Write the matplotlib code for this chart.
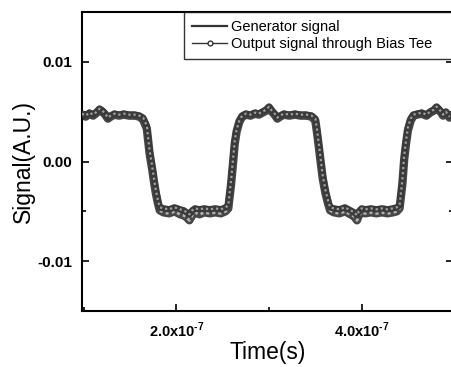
import matplotlib
matplotlib.use("Agg")
import matplotlib.pyplot as plt
from matplotlib.lines import Line2D
from matplotlib.ticker import FixedLocator

plt.rcParams['font.family'] = ['Liberation Sans', 'DejaVu Sans']
plt.rcParams['mathtext.fontset'] = 'custom'
plt.rcParams['mathtext.rm'] = 'Liberation Sans:bold'
plt.rcParams['mathtext.bf'] = 'Liberation Sans:bold'

# Time (ns) and signal (x1e-3 A.U.)
gen_t = [98, 102, 106, 110, 114, 117, 120, 123, 126, 129, 133, 138, 143, 149, 155, 160, 164,
         168, 171, 174, 176, 178, 180, 182, 186, 192, 198, 204, 208, 211, 214, 217, 220, 225,
         230, 236, 242, 248, 253, 256, 259, 261, 263, 265, 268, 271, 275, 280, 285, 289, 293,
         297, 300, 303, 306, 309, 312, 316, 322, 328, 334, 340, 346, 350, 352, 354, 356, 358,
         361, 364, 366, 370, 376, 382, 388, 392, 395, 397, 400, 404, 410, 416, 422, 428, 434,
         438, 441, 444, 446, 448, 450, 453, 456, 460, 465, 470, 474, 478, 481, 483, 486, 488,
         491, 495]
gen_v = [4.8, 4.6, 4.9, 4.7, 5.0, 5.3, 5.1, 4.8, 4.4, 4.6, 4.8, 4.7, 4.8, 4.7, 4.7, 4.6, 4.4,
         3.6, 1.1, -0.6, -1.9, -3.0, -3.9, -4.6, -4.7, -4.8, -4.6, -4.8, -4.9, -5.1, -5.3, -4.9,
         -4.7, -4.8, -4.7, -4.8, -4.7, -4.8, -4.6, -4.4, -1.9, 0.1, 2.1, 3.2, 4.1, 4.6, 4.8, 4.7,
         4.9, 4.8, 5.0, 5.2, 5.5, 5.1, 4.8, 4.4, 4.6, 4.8, 4.7, 4.8, 4.7, 4.7, 4.6, 4.3, 3.1,
         1.6, 0.1, -1.4, -2.9, -4.0, -4.6, -4.7, -4.8, -4.6, -4.9, -5.1, -5.4, -5.0, -4.7, -4.8,
         -4.7, -4.8, -4.7, -4.8, -4.7, -4.6, -4.4, -1.9, 0.6, 2.1, 3.4, 4.3, 4.7, 4.8, 4.9, 4.7,
         5.0, 5.2, 5.5, 5.3, 5.0, 4.7, 5.0, 4.5]
out_t = gen_t
out_v = [4.7, 4.5, 4.8, 4.6, 4.9, 5.2, 5.0, 4.7, 4.3, 4.5, 4.7, 4.6, 4.7, 4.6, 4.6, 4.5, 4.2,
         3.3, 0.8, -0.9, -2.2, -3.3, -4.2, -4.9, -5.1, -5.2, -5.0, -5.3, -5.4, -5.6, -5.9, -5.4,
         -5.1, -5.3, -5.1, -5.2, -5.1, -5.2, -5.0, -4.7, -2.3, -0.3, 1.8, 3.0, 4.0, 4.5, 4.7, 4.6,
         4.8, 4.7, 4.9, 5.1, 5.4, 5.0, 4.7, 4.3, 4.5, 4.7, 4.6, 4.7, 4.6, 4.6, 4.5, 4.1, 2.8,
         1.3, -0.2, -1.7, -3.2, -4.3, -4.9, -5.1, -5.2, -5.0, -5.3, -5.5, -5.9, -5.4, -5.1, -5.2,
         -5.1, -5.2, -5.1, -5.2, -5.1, -5.0, -4.7, -2.3, 0.2, 1.8, 3.1, 4.1, 4.6, 4.7, 4.8, 4.6,
         4.9, 5.1, 5.4, 5.2, 4.9, 4.6, 4.9, 4.4]

x_ticks = [2.0e-7, 4.0e-7]
x_tick_labels = [r'2.0x10$^{\text{-}7}$', r'4.0x10$^{\text{-}7}$']
y_ticks = [-0.01, 0.0, 0.01]
y_tick_labels = ['-0.01', '0.00', '0.01']
legend_labels = ['Generator signal', 'Output signal through Bias Tee']

fig = plt.figure(figsize=(4.51, 3.67), dpi=100)
ax = fig.add_axes([82/451, 1-311/367, 1.005-82/451, (311-12)/367])

gt = [t*1e-9 for t in gen_t]
gv = [v*1e-3 for v in gen_v]
ot = [t*1e-9 for t in out_t]
ov = [v*1e-3 for v in out_v]

ax.plot(ot, ov, color='#474747', lw=6.0, solid_capstyle='round', zorder=2)
ax.plot(ot, ov, color='#b4b4b4', lw=2.2, ls=(0, (1, 1)), zorder=3)
ax.plot(gt, gv, color='#3a3a3a', lw=4.6, solid_capstyle='round', zorder=4)
ax.plot(gt, gv, color='#a0a0a0', lw=1.6, ls=(0, (1, 1.3)), zorder=5)

ax.set_xlim(98e-9, 499e-9)
ax.set_ylim(-0.015, 0.015)
ax.xaxis.set_major_locator(FixedLocator(x_ticks))
ax.set_xticklabels(x_tick_labels)
ax.xaxis.set_minor_locator(FixedLocator([1e-7, 3e-7]))
ax.yaxis.set_major_locator(FixedLocator(y_ticks))
ax.set_yticklabels(y_tick_labels)
ax.yaxis.set_minor_locator(FixedLocator([-0.005, 0.005]))
ax.tick_params(which='both', direction='in', right=True, top=False, width=1.2)
ax.tick_params(which='major', length=5)
ax.tick_params(which='minor', length=3)
ax.tick_params(axis='x', which='major', labelsize=10.5, pad=7)
ax.tick_params(axis='y', which='major', labelsize=11, pad=7)
for lab in ax.get_xticklabels() + ax.get_yticklabels():
    lab.set_fontweight('bold')
for s in ax.spines.values():
    s.set_linewidth(1.5)

ax.set_xlabel('Time(s)', fontsize=16.5, labelpad=1)
ax.set_ylabel('Signal(A.U.)', fontsize=16.5, labelpad=2)

handles = [Line2D([], [], color='#333333', lw=1.6),
           Line2D([], [], color='#333333', lw=1.0, marker='o', ms=3.5,
                  mfc='white', mec='#333333')]
leg = ax.legend(handles, legend_labels, loc='upper left', mode='expand',
                bbox_to_anchor=(184/451, 1-57/367, 1.05-184/451, 45/367),
                bbox_transform=fig.transFigure,
                fontsize=10.5, frameon=True, fancybox=False, borderaxespad=0,
                handlelength=2.4, handletextpad=0.3, labelspacing=0.22,
                borderpad=0.55)
leg.get_frame().set_edgecolor('black')
leg.get_frame().set_linewidth(1.0)

fig.savefig('out.png', dpi=100)
